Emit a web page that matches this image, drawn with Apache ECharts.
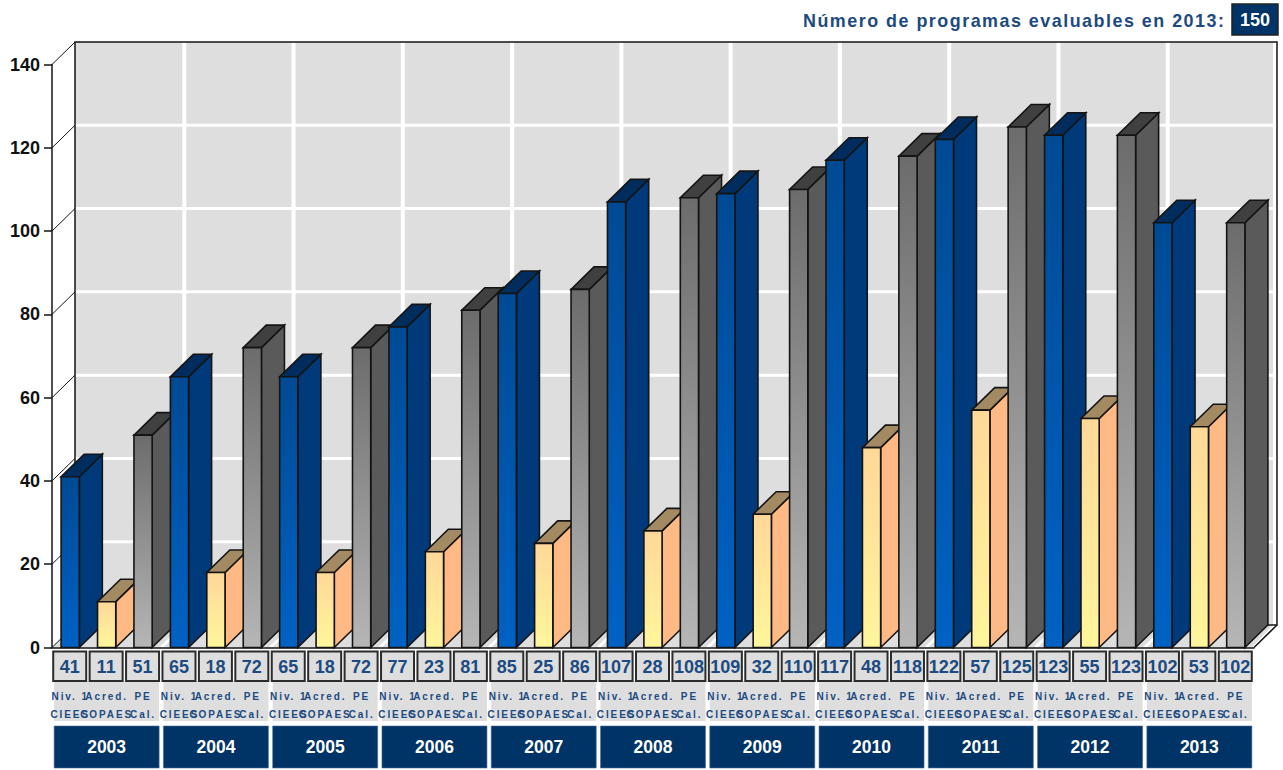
<!DOCTYPE html>
<html>
<head>
<meta charset="utf-8">
<title>Programas evaluables</title>
<script src="https://cdn.jsdelivr.net/npm/echarts@6/dist/echarts.min.js"></script>
<style>
html, body { margin: 0; padding: 0; background: #fff; }
#chart { width: 1283px; height: 770px; }
/* letra espaciada del original: el canvas no la da, por eso va con svg */
#chart text[style*="bold 10px"] { letter-spacing: 1.9px; }
#chart text[style*="17.9px"] { letter-spacing: 1.5px; }
</style>
</head>
<body>
<div id="chart"></div>
<script>
var years = ['2003','2004','2005','2006','2007','2008','2009','2010','2011','2012','2013'];
var kindsTop = ['Niv. 1', 'Acred.', 'PE'];
var kindsBottom = ['CIEES', 'COPAES', 'Cal.'];
var niv1 = [41, 65, 65, 77, 85, 107, 109, 117, 122, 123, 102];
var acred = [11, 18, 18, 23, 25, 28, 32, 48, 57, 55, 53];
var peCal = [51, 72, 72, 81, 86, 108, 110, 118, 125, 123, 102];
var yTicks = [0, 20, 40, 60, 80, 100, 120, 140];
var titleText = 'Número de programas evaluables en 2013:';
var totalText = '150';

var FONT = '"Liberation Sans", Arial, sans-serif';
var NAVY = '#003366';
var TEXT_BLUE = '#1d4a80';
var LINE = '#141414';
var DX = 23, DY = 22.5;   // profundidad del 3d

// colores por serie: frente arriba, frente abajo, lado, tapa
var barColors = [
    ['#004a94', '#0062c4', '#003a7a', '#002c5e'],
    ['#ffd898', '#fff69c', '#ffb985', '#a38a63'],
    ['#6c6c6c', '#b6b6b6', '#5a5a5a', '#404040']
];

var categories = [];
var barData = [];
var allSeries = [niv1, acred, peCal];
years.forEach(function (y, i) {
    allSeries.forEach(function (s, k) {
        categories.push(y + ' ' + kindsTop[k] + ' ' + kindsBottom[k]);
        barData.push([categories.length - 1, s[i], k]);
    });
});

function poly(points, fill) {
    return {
        type: 'polygon',
        shape: { points: points },
        style: { fill: fill, stroke: LINE, lineWidth: 1.6, lineJoin: 'miter' }
    };
}

function renderWalls(params, api) {
    var band = api.size([1, 0])[0];
    var o = api.coord([0, 0]);
    var left = o[0] - band / 2;
    var right = left + band * categories.length;
    var base = o[1];
    var top = api.coord([0, yTicks[yTicks.length - 1]])[1];
    var kids = [];
    // pared del fondo y piso
    kids.push({ type: 'rect', shape: { x: left + DX, y: top - DY, width: right - left, height: base - top },
        style: { fill: '#dedede', stroke: 'none' } });
    kids.push({ type: 'polygon', shape: { points: [[left, base], [right, base], [right + DX, base - DY], [left + DX, base - DY]] },
        style: { fill: '#dedede', stroke: 'none' } });
    // rejilla
    for (var g = 1; g <= years.length; g++) {
        var gx = left + band * 3 * g;
        var back = gx + DX - (g === years.length ? 2 : 0);
        kids.push({ type: 'line', shape: { x1: back, y1: top - DY, x2: back, y2: base - DY },
            style: { stroke: '#fff', lineWidth: 4 } });
        kids.push({ type: 'line', shape: { x1: gx, y1: base, x2: back, y2: base - DY },
            style: { stroke: '#fff', lineWidth: 3 } });
    }
    yTicks.forEach(function (t) {
        var ty = api.coord([0, t])[1];
        if (t > 0 && t < yTicks[yTicks.length - 1]) {
            kids.push({ type: 'line', shape: { x1: left + DX, y1: ty - DY, x2: right + DX, y2: ty - DY },
                style: { stroke: '#fff', lineWidth: 3 } });
        }
        kids.push({ type: 'line', shape: { x1: left, y1: ty, x2: left + DX, y2: ty - DY },
            style: { stroke: LINE, lineWidth: 1 } });
    });
    // contornos
    kids.push({ type: 'polyline', shape: { points: [[left + DX, base - DY], [left + DX, top - DY], [right + DX, top - DY], [right + DX, base - DY], [left + DX, base - DY]] },
        style: { fill: 'none', stroke: LINE, lineWidth: 1.5 } });
    kids.push({ type: 'line', shape: { x1: right, y1: base, x2: right + DX, y2: base - DY },
        style: { stroke: LINE, lineWidth: 1.5 } });
    return { type: 'group', children: kids };
}

function renderBar(params, api) {
    var idx = api.value(0), val = api.value(1), kind = api.value(2);
    var band = api.size([1, 0])[0];
    var w = band * 0.5;
    var p0 = api.coord([idx, 0]);
    var p1 = api.coord([idx, val]);
    var x0 = p0[0] - w / 2, x1 = p0[0] + w / 2;
    var c = barColors[kind];
    return {
        type: 'group',
        children: [
            poly([[x1, p0[1]], [x1 + DX, p0[1] - DY], [x1 + DX, p1[1] - DY], [x1, p1[1]]], c[2]),
            poly([[x0, p1[1]], [x1, p1[1]], [x1 + DX, p1[1] - DY], [x0 + DX, p1[1] - DY]], c[3]),
            poly([[x0, p1[1]], [x1, p1[1]], [x1, p0[1]], [x0, p0[1]]],
                new echarts.graphic.LinearGradient(0, 0, 0, 1, [
                    { offset: 0, color: c[0] }, { offset: 1, color: c[1] }
                ]))
        ]
    };
}

function renderYear(params, api) {
    var i = params.dataIndex;
    var cx = api.coord([i * 3 + 1, 0])[0];
    var w = 105;
    return {
        type: 'group',
        children: [
            { type: 'rect', shape: { x: cx - w / 2, y: 681, width: w, height: 40 }, style: { fill: '#dedede' } },
            { type: 'rect', shape: { x: cx - w / 2, y: 726, width: w, height: 42 }, style: { fill: NAVY, stroke: '#4a6f99', lineWidth: 0.6 } },
            { type: 'text', style: { x: cx, y: 747, text: years[i], align: 'center', verticalAlign: 'middle',
                font: 'bold 17.5px ' + FONT, fill: '#fff' } }
        ]
    };
}

function renderBox(params, api) {
    var idx = api.value(0), val = api.value(1), kind = api.value(2);
    var cx = api.coord([idx, 0])[0];
    return {
        type: 'group',
        children: [
            { type: 'rect', shape: { x: cx - 17, y: 651.5, width: 33, height: 29.5 },
                style: { fill: '#dedede', stroke: '#2c2c2c', lineWidth: 2 } },
            { type: 'text', style: { x: cx - 0.5, y: 667, text: String(val), align: 'center', verticalAlign: 'middle',
                font: 'bold 18px ' + FONT, fill: TEXT_BLUE } },
            { type: 'text', style: { x: cx, y: 696.5, text: kindsTop[kind], align: 'center', verticalAlign: 'middle',
                font: 'bold 10px ' + FONT, fill: TEXT_BLUE } },
            { type: 'text', style: { x: cx, y: 714.5, text: kindsBottom[kind], align: 'center', verticalAlign: 'middle',
                font: 'bold 10px ' + FONT, fill: TEXT_BLUE } }
        ]
    };
}

var option = {
    animation: false,
    backgroundColor: '#fff',
    title: [
        { text: titleText, left: 803, top: 12, padding: 0,
          textStyle: { fontFamily: FONT, fontWeight: 'bold', fontSize: 17.9, color: TEXT_BLUE } },
        { text: totalText, left: 1232, top: 4, padding: [7, 8, 6, 8],
          backgroundColor: NAVY, borderColor: '#222', borderWidth: 1.5,
          textStyle: { fontFamily: FONT, fontWeight: 'bold', fontSize: 18, color: '#fff' } }
    ],
    grid: { left: 52, right: 29, top: 64.5, bottom: 122.5 },
    xAxis: {
        type: 'category',
        data: categories,
        z: 10,
        axisLine: { lineStyle: { color: LINE, width: 1.5 } },
        axisTick: { show: false },
        axisLabel: { show: false }
    },
    yAxis: {
        type: 'value',
        min: 0,
        max: 140,
        interval: 20,
        z: 10,
        axisLine: { show: true, lineStyle: { color: LINE, width: 1.5 } },
        axisTick: { show: true, length: 8, lineStyle: { color: LINE, width: 1.5 } },
        axisLabel: { margin: 12, fontFamily: FONT, fontWeight: 'bold', fontSize: 18, color: '#111' },
        splitLine: { show: false }
    },
    series: [
        { type: 'custom', name: 'walls', z: 1, silent: true, renderItem: renderWalls, data: [[0, 0]], clip: false },
        { type: 'custom', name: 'bars', z: 3, renderItem: renderBar, data: barData, clip: false,
          encode: { x: 0, y: 1 } },
        { type: 'custom', name: 'years', z: 4, silent: true, renderItem: renderYear, data: years.map(function (y, i) { return [i * 3 + 1, 0]; }), clip: false },
        { type: 'custom', name: 'boxes', z: 5, silent: true, renderItem: renderBox, data: barData, clip: false,
          encode: { x: 0, y: 1 } }
    ]
};

var myChart = echarts.init(document.getElementById('chart'), null, { renderer: 'svg' });
myChart.setOption(option, true);
</script>
</body>
</html>
